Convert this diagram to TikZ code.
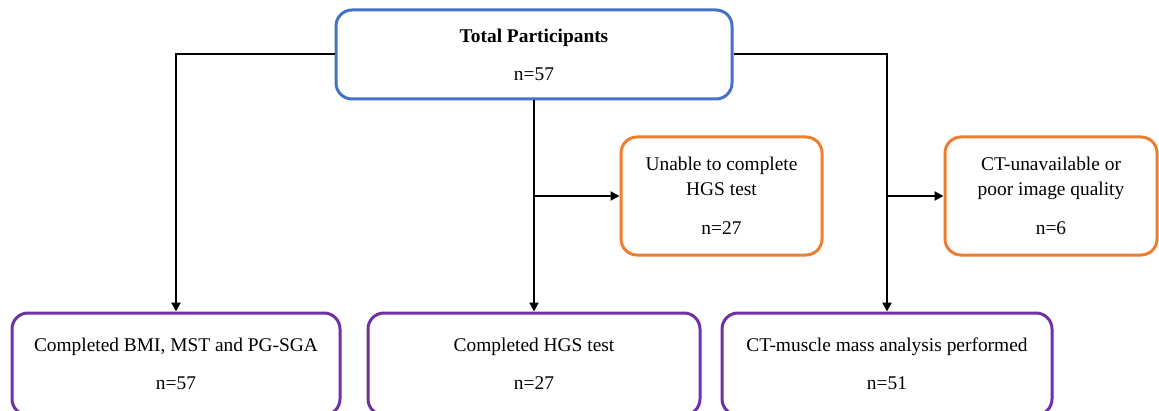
\documentclass[tikz,border=0pt]{standalone}
\usepackage{fontspec}
\setmainfont{Liberation Serif}
\usepackage{tikz}
\usetikzlibrary{arrows.meta}
\usepackage{xcolor}
\definecolor{boxblue}{RGB}{68,114,196}
\definecolor{boxorange}{RGB}{237,125,49}
\definecolor{boxpurple}{RGB}{112,48,160}

\begin{document}
\begin{tikzpicture}[x=0.5pt, y=-0.5pt,
    font=\fontsize{9.7pt}{12.5pt}\selectfont,
    box/.style={draw, line width=1.5pt, rounded corners=8pt, align=center, inner sep=0pt},
    mainbox/.style={box, draw=boxblue, minimum width=198pt, minimum height=44.5pt},
    exclbox/.style={box, draw=boxorange, minimum height=59pt},
    resultbox/.style={box, draw=boxpurple, minimum height=51pt},
    flow/.style={line width=1pt, -{Triangle[length=4.5pt, width=4.5pt]}}]
    \useasboundingbox (0,0) rectangle (1159,411);
    \clip (0,0) rectangle (1159,411);
    % Caixas
    \node[mainbox] (total) at (534,54.5) {\textbf{Total Participants}\\[6.5pt]n=57};
    \node[exclbox, minimum width=100.5pt] (nohgs) at (721.5,196) {Unable to complete\\HGS test\\[7pt]n=27};
    \node[exclbox, minimum width=106pt] (noct) at (1051,196) {CT-unavailable or\\poor image quality\\[7pt]n=6};
    \node[resultbox, minimum width=164pt] (bmi) at (176,364) {Completed BMI, MST and PG-SGA\\[6.5pt]n=57};
    \node[resultbox, minimum width=166pt] (hgs) at (534,364) {Completed HGS test\\[6.5pt]n=27};
    \node[resultbox, minimum width=165pt] (ct) at (887,364) {CT-muscle mass analysis performed\\[6.5pt]n=51};
    % Setas
    \draw[flow] (total.west) -| (bmi.north);
    \draw[flow] (total.south) -- (total.south |- hgs.north);
    \draw[flow] (total.east) -| (ct.north);
    \draw[flow] (total.south |- nohgs.west) -- (nohgs.west);
    \draw[flow] (ct.north |- noct.west) -- (noct.west);
\end{tikzpicture}
\end{document}
